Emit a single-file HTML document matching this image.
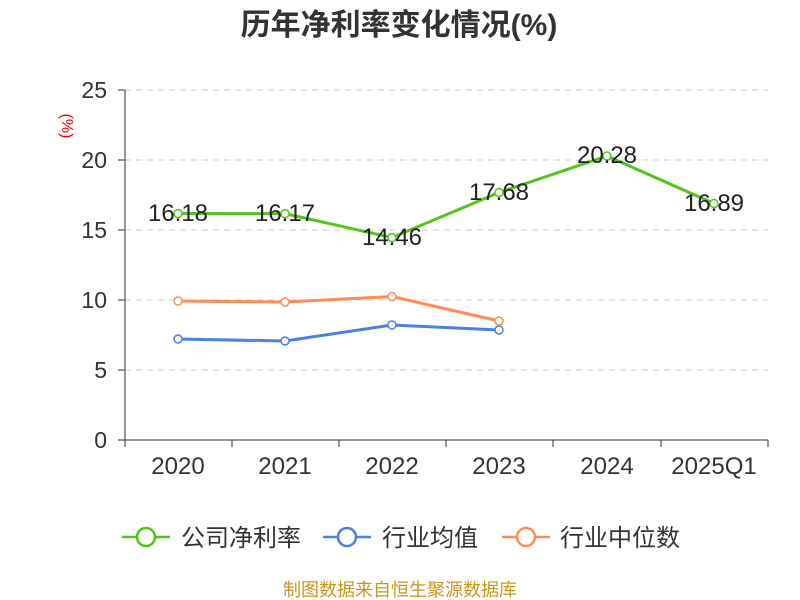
<!DOCTYPE html>
<html><head><meta charset="utf-8"><style>
html,body{margin:0;padding:0;background:#fff;}
svg{display:block;font-family:"Liberation Sans","Noto Sans CJK SC",sans-serif;}
</style></head><body>
<svg width="800" height="600" viewBox="0 0 800 600">
<text x="399" y="35" text-anchor="middle" font-size="30" font-weight="bold" fill="#333">历年净利率变化情况(%)</text>
<text x="62" y="126" font-size="16" fill="#e00" transform="rotate(90 62 126)" text-anchor="middle">(%)</text>
<g stroke="#ccc" stroke-dasharray="6,5" stroke-width="1">
<line x1="125" y1="90" x2="768" y2="90"/><line x1="125" y1="160" x2="768" y2="160"/>
<line x1="125" y1="230" x2="768" y2="230"/><line x1="125" y1="300" x2="768" y2="300"/>
<line x1="125" y1="370" x2="768" y2="370"/>
</g>
<g stroke="#333" stroke-width="1">
<line x1="125" y1="90" x2="125" y2="440"/><line x1="125" y1="440" x2="768" y2="440"/>
<line x1="118" y1="90" x2="125" y2="90"/><line x1="118" y1="160" x2="125" y2="160"/><line x1="118" y1="230" x2="125" y2="230"/><line x1="118" y1="300" x2="125" y2="300"/><line x1="118" y1="370" x2="125" y2="370"/><line x1="118" y1="440" x2="125" y2="440"/>
<line x1="125" y1="440" x2="125" y2="447"/><line x1="232" y1="440" x2="232" y2="447"/><line x1="339" y1="440" x2="339" y2="447"/><line x1="446" y1="440" x2="446" y2="447"/><line x1="553" y1="440" x2="553" y2="447"/><line x1="661" y1="440" x2="661" y2="447"/><line x1="768" y1="440" x2="768" y2="447"/>
</g>
<g font-size="23" fill="#333" text-anchor="end">
<text x="107" y="98">25</text><text x="107" y="168">20</text><text x="107" y="238">15</text><text x="107" y="308">10</text><text x="107" y="378">5</text><text x="107" y="448">0</text>
</g>
<g font-size="24" fill="#333" text-anchor="middle">
<text x="178" y="474">2020</text><text x="285" y="474">2021</text><text x="392" y="474">2022</text><text x="499" y="474">2023</text><text x="607" y="474">2024</text><text x="714" y="474">2025Q1</text>
</g>
<polyline fill="none" stroke="#52c41a" stroke-width="3" points="178,213.5 285,213.6 392,237.6 499,192.5 607,156 714,203.5"/>
<polyline fill="none" stroke="#4a80e0" stroke-width="3" points="178,339 285,341 392,325 499,330"/>
<polyline fill="none" stroke="#ff8c55" stroke-width="3" points="178,301 285,302 392,296.5 499,321"/>
<g fill="#fff" stroke-width="1.5">
<g stroke="#52c41a"><circle cx="178" cy="213.5" r="4"/><circle cx="285" cy="213.6" r="4"/><circle cx="392" cy="237.6" r="4"/><circle cx="499" cy="192.5" r="4"/><circle cx="607" cy="156" r="4"/><circle cx="714" cy="203.5" r="4"/></g>
<g stroke="#4a80e0"><circle cx="178" cy="339" r="4"/><circle cx="285" cy="341" r="4"/><circle cx="392" cy="325" r="4"/><circle cx="499" cy="330" r="4"/></g>
<g stroke="#ff8c55"><circle cx="178" cy="301" r="4"/><circle cx="285" cy="302" r="4"/><circle cx="392" cy="296.5" r="4"/><circle cx="499" cy="321" r="4"/></g>
</g>
<g font-size="24" fill="#222" text-anchor="middle">
<text x="178" y="221">16.18</text><text x="285" y="221">16.17</text><text x="392" y="245">14.46</text><text x="499" y="200">17.68</text><text x="607" y="163">20.28</text><text x="714" y="211">16.89</text>
</g>
<g stroke-width="2.5" fill="#fff">
<line x1="122" y1="537" x2="170" y2="537" stroke="#52c41a"/><circle cx="146" cy="537" r="9" stroke="#52c41a"/>
<line x1="323" y1="537" x2="371" y2="537" stroke="#4a80e0"/><circle cx="347" cy="537" r="9" stroke="#4a80e0"/>
<line x1="502" y1="537" x2="550" y2="537" stroke="#ff8c55"/><circle cx="526" cy="537" r="9" stroke="#ff8c55"/>
</g>
<g font-size="24" fill="#333">
<text x="181" y="546">公司净利率</text><text x="382" y="546">行业均值</text><text x="560" y="546">行业中位数</text>
</g>
<text x="400" y="596" text-anchor="middle" font-size="18" fill="#c8961e">制图数据来自恒生聚源数据库</text>
</svg>
</body></html>
